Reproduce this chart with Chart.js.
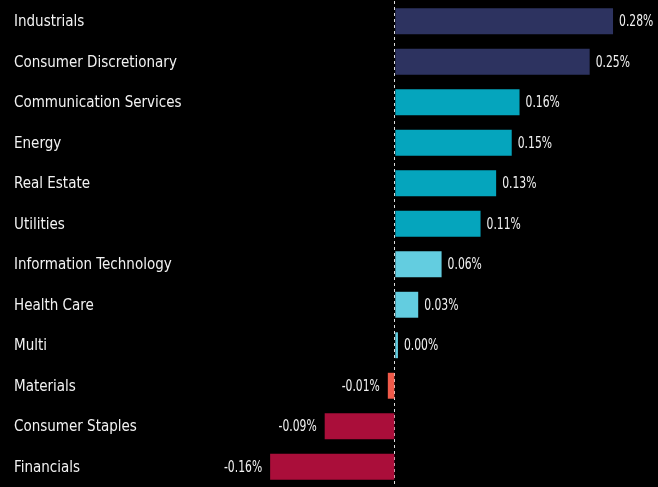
<!DOCTYPE html>
<html>
<head>
<meta charset="utf-8">
<script src="https://cdn.jsdelivr.net/npm/chart.js@4/dist/chart.umd.min.js"></script>
<style>
  html, body { margin: 0; padding: 0; background: #000; }
  #wrap { width: 658px; height: 487px; }
</style>
</head>
<body>
<div id="wrap"><canvas id="chart1"></canvas></div>
<script>
const sectors = [
    "Industrials", "Consumer Discretionary", "Communication Services", "Energy",
    "Real Estate", "Utilities", "Information Technology", "Health Care",
    "Multi", "Materials", "Consumer Staples", "Financials"
];
const changes = [0.28, 0.25, 0.16, 0.15, 0.13, 0.11, 0.06, 0.03, 0.004, -0.009, -0.09, -0.16];
const labelsText = ["0.28%", "0.25%", "0.16%", "0.15%", "0.13%", "0.11%", "0.06%", "0.03%", "0.00%", "-0.01%", "-0.09%", "-0.16%"];
const barColors = [
    "#2d3360", "#2d3360", "#05a5bd", "#05a5bd", "#05a5bd", "#05a5bd",
    "#63cde0", "#63cde0", "#63cde0", "#f05a4a", "#aa0e3a", "#aa0e3a"
];

const labelFont = "15px 'DejaVu Sans Condensed', 'DejaVu Sans', sans-serif";
const valueFont = "15px 'DejaVu Sans Condensed', 'DejaVu Sans', sans-serif";
const valueSqueeze = 0.8; // value text is narrower than the category names

// category names on the left and value labels next to each bar
const textLabels = {
    id: "textLabels",
    afterDatasetsDraw(chart) {
        const ctx = chart.ctx;
        const meta = chart.getDatasetMeta(0);
        const yScale = chart.scales.y;
        ctx.save();
        ctx.fillStyle = "#f2f2f2";
        ctx.textBaseline = "middle";

        ctx.font = labelFont;
        ctx.textAlign = "left";
        sectors.forEach((name, i) => {
            ctx.fillText(name, 14, yScale.getPixelForValue(i) + 1);
        });

        ctx.font = valueFont;
        meta.data.forEach((bar, i) => {
            ctx.save();
            if (changes[i] >= 0) {
                ctx.translate(bar.x + 6, bar.y + 1);
                ctx.textAlign = "left";
            } else {
                ctx.translate(bar.x - 8, bar.y + 1);
                ctx.textAlign = "right";
            }
            ctx.scale(valueSqueeze, 1);
            ctx.fillText(labelsText[i], 0, 0);
            ctx.restore();
        });
        ctx.restore();
    }
};

const ctx1 = document.getElementById("chart1").getContext("2d");
const chart = new Chart(ctx1, {
    type: "bar",
    data: {
        labels: sectors,
        datasets: [{
            data: changes,
            backgroundColor: barColors,
            borderWidth: 0,
            barPercentage: 0.64,
            categoryPercentage: 1
        }]
    },
    options: {
        indexAxis: "y",
        responsive: true,
        maintainAspectRatio: false,
        animation: false,
        layout: { padding: { left: 200, right: 6, top: 1, bottom: 0 } },
        plugins: {
            legend: { display: false },
            tooltip: { enabled: false }
        },
        scales: {
            x: {
                min: -0.25,
                max: 0.33,
                ticks: { display: false },
                border: { display: false, dash: [3, 3] },
                grid: {
                    drawTicks: false,
                    color: "#dddddd",
                    lineWidth: 1
                },
                afterBuildTicks: (axis) => { axis.ticks = [{ value: 0 }]; }
            },
            y: {
                display: false
            }
        }
    },
    plugins: [textLabels]
});
</script>
</body>
</html>
